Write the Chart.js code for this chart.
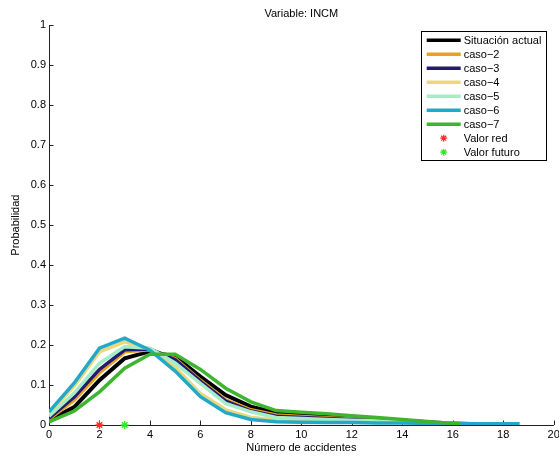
<!DOCTYPE html>
<html>
<head>
<meta charset="utf-8">
<script src="https://cdn.jsdelivr.net/npm/chart.js@4/dist/chart.umd.min.js"></script>
<style>
  html, body { margin: 0; padding: 0; background: #fff; }
  #wrap { width: 559px; height: 456px; }
</style>
</head>
<body>
<div id="wrap"><canvas id="grafico" width="559" height="456"></canvas></div>
<script>
// Número de accidentes (eje x) y probabilidad de cada escenario
const accidentes = [0, 1, 2, 3, 4, 5, 6, 7, 8, 9, 10, 11, 12, 13, 14, 15, 16, 17, 18];

const situacionActual = [0.012, 0.045, 0.112, 0.167, 0.184, 0.171, 0.121, 0.075, 0.046, 0.031, 0.027, 0.023, 0.019, 0.015, 0.011, 0.007, 0.004, 0.002];
const caso2 = [0.015, 0.062, 0.130, 0.183, 0.188, 0.166, 0.112, 0.063, 0.038, 0.025, 0.021, 0.018, 0.015, 0.012, 0.009, 0.006, 0.003, 0.002];
const caso3 = [0.017, 0.070, 0.139, 0.188, 0.190, 0.163, 0.109, 0.060, 0.035, 0.022, 0.019, 0.016, 0.013, 0.011, 0.008, 0.005, 0.003, 0.002];
const caso4 = [0.028, 0.098, 0.183, 0.208, 0.190, 0.144, 0.079, 0.038, 0.019, 0.013, 0.012, 0.011, 0.010, 0.009, 0.007, 0.005, 0.004, 0.003];
const caso5 = [0.022, 0.080, 0.154, 0.196, 0.192, 0.155, 0.104, 0.054, 0.033, 0.019, 0.016, 0.014, 0.012, 0.010, 0.008, 0.006, 0.004, 0.002];
const caso6 = [0.033, 0.105, 0.192, 0.217, 0.187, 0.135, 0.071, 0.031, 0.014, 0.008, 0.007, 0.006, 0.006, 0.005, 0.005, 0.004, 0.004, 0.003, 0.003];
const caso7 = [0.008, 0.035, 0.083, 0.142, 0.177, 0.177, 0.139, 0.092, 0.058, 0.036, 0.032, 0.028, 0.023, 0.019, 0.014, 0.009, 0.004];

// Último valor de x alcanzado por cada curva
const finSerie = [17, 17, 17, 17, 17, 18.65, 16.3];

const nombres = ['Situación actual', 'caso\u22122', 'caso\u22123', 'caso\u22124', 'caso\u22125', 'caso\u22126', 'caso\u22127'];
const colores = ['#000000', '#E8A21C', '#231A72', '#EBD77C', '#A6EDC6', '#22A9C9', '#3DB52E'];
const series = [situacionActual, caso2, caso3, caso4, caso5, caso6, caso7];

// Valores puntuales marcados sobre el eje
const valorRed = [2];
const valorFuturo = [3];

const ticksX = [0, 2, 4, 6, 8, 10, 12, 14, 16, 18, 20];
const ticksY = [0, 0.1, 0.2, 0.3, 0.4, 0.5, 0.6, 0.7, 0.8, 0.9, 1];

function puntos(valores, fin) {
  const p = valores.map((y, i) => ({ x: accidentes[i], y: y }));
  const ultimo = p[p.length - 1];
  if (fin > ultimo.x) p.push({ x: fin, y: ultimo.y });
  return p;
}

const datasets = series.map((valores, i) => ({
  label: nombres[i],
  data: puntos(valores, finSerie[i]),
  borderColor: colores[i],
  backgroundColor: colores[i],
  borderWidth: i === 0 ? 4 : 3.5,
  pointRadius: 0,
  tension: 0,
  fill: false,
  order: series.length - i + 1
}));

datasets.push({
  label: 'Valor red',
  data: valorRed.map(x => ({ x: x, y: 0 })),
  showLine: false,
  pointStyle: 'star',
  pointRadius: 4,
  borderColor: '#FF2A2A',
  backgroundColor: '#FF2A2A',
  pointBorderWidth: 1.3,
  clip: false,
  order: 0
});
datasets.push({
  label: 'Valor futuro',
  data: valorFuturo.map(x => ({ x: x, y: 0 })),
  showLine: false,
  pointStyle: 'star',
  pointRadius: 4,
  borderColor: '#2BEA2B',
  backgroundColor: '#2BEA2B',
  pointBorderWidth: 1.3,
  clip: false,
  order: 0
});

const fuente = "'Liberation Sans', Arial, Helvetica, sans-serif";

// Marcas cortas hacia dentro en los ejes
const marcasInternas = {
  id: 'marcasInternas',
  beforeDatasetsDraw(chart) {
    const { ctx, chartArea, scales } = chart;
    ctx.save();
    ctx.strokeStyle = '#222';
    ctx.lineWidth = 1;
    ctx.beginPath();
    ticksX.forEach(v => {
      const px = Math.round(scales.x.getPixelForValue(v)) + 0.5;
      ctx.moveTo(px, chartArea.bottom);
      ctx.lineTo(px, chartArea.bottom - 4.5);
    });
    ticksY.forEach(v => {
      const py = Math.round(scales.y.getPixelForValue(v)) + 0.5;
      ctx.moveTo(chartArea.left, py);
      ctx.lineTo(chartArea.left + 4.5, py);
    });
    ctx.stroke();
    ctx.restore();
  }
};

// Leyenda en recuadro dentro del área de trazado
const leyenda = {
  id: 'leyenda',
  afterDraw(chart) {
    const { ctx, chartArea } = chart;
    const x0 = chartArea.right - 133;
    const y0 = chartArea.top + 6;
    const ancho = 125, paso = 14;
    const filas = chart.data.datasets.length;
    const alto = filas * paso + 3;
    ctx.save();
    ctx.fillStyle = '#fff';
    ctx.fillRect(x0, y0, ancho, alto);
    ctx.strokeStyle = '#000';
    ctx.lineWidth = 1;
    ctx.strokeRect(Math.round(x0) + 0.5, Math.round(y0) + 0.5, ancho, alto);
    ctx.font = '11px ' + fuente;
    ctx.textBaseline = 'middle';
    ctx.textAlign = 'left';
    chart.data.datasets.forEach((ds, i) => {
      const y = y0 + 9 + i * paso;
      if (ds.showLine === false) {
        // asterisco del marcador
        const r = 3.5, cx = x0 + 23;
        ctx.strokeStyle = ds.borderColor;
        ctx.lineWidth = 1.2;
        ctx.beginPath();
        for (let k = 0; k < 4; k++) {
          const a = k * Math.PI / 4;
          ctx.moveTo(cx - r * Math.cos(a), y - r * Math.sin(a));
          ctx.lineTo(cx + r * Math.cos(a), y + r * Math.sin(a));
        }
        ctx.stroke();
      } else {
        ctx.strokeStyle = ds.borderColor;
        ctx.lineWidth = 3.5;
        ctx.beginPath();
        ctx.moveTo(x0 + 6, y);
        ctx.lineTo(x0 + 40, y);
        ctx.stroke();
      }
      ctx.fillStyle = '#000';
      ctx.fillText(ds.label, x0 + 43, y + 0.5);
    });
    ctx.restore();
  }
};

new Chart(document.getElementById('grafico'), {
  type: 'line',
  data: { datasets: datasets },
  plugins: [marcasInternas, leyenda],
  options: {
    responsive: false,
    animation: false,
    devicePixelRatio: 1,
    layout: { padding: { left: 0, right: 3, top: 0, bottom: 0 } },
    plugins: {
      legend: { display: false },
      tooltip: { enabled: false },
      title: {
        display: true,
        fullSize: false,
        text: 'Variable: INCM',
        color: '#000',
        font: { family: fuente, size: 11, weight: 'normal' },
        padding: { top: 7, bottom: 5 }
      }
    },
    scales: {
      x: {
        type: 'linear',
        min: 0, max: 20,
        afterBuildTicks: s => { s.ticks = ticksX.map(v => ({ value: v })); },
        afterFit: s => { s.height = 31; s.paddingLeft = 0; s.paddingRight = 0; },
        grid: { display: false, drawTicks: false },
        border: { display: true, color: '#222', width: 1 },
        ticks: {
          color: '#000', padding: 3, maxRotation: 0,
          font: { family: fuente, size: 11 }
        },
        title: {
          display: true, text: 'Número de accidentes', color: '#000',
          font: { family: fuente, size: 11 },
          padding: { top: 0, bottom: 1 }
        }
      },
      y: {
        type: 'linear',
        min: 0, max: 1,
        afterBuildTicks: s => { s.ticks = ticksY.map(v => ({ value: v })); },
        afterFit: s => { s.width = 49; s.paddingTop = 0; s.paddingBottom = 0; },
        grid: { display: false, drawTicks: false },
        border: { display: true, color: '#222', width: 1 },
        ticks: {
          color: '#000', padding: 3,
          font: { family: fuente, size: 11 },
          callback: v => String(+v.toFixed(1))
        },
        title: {
          display: true, text: 'Probabilidad', color: '#000',
          font: { family: fuente, size: 11 },
          padding: { top: 9, bottom: 0 }
        }
      }
    }
  }
});
</script>
</body>
</html>
